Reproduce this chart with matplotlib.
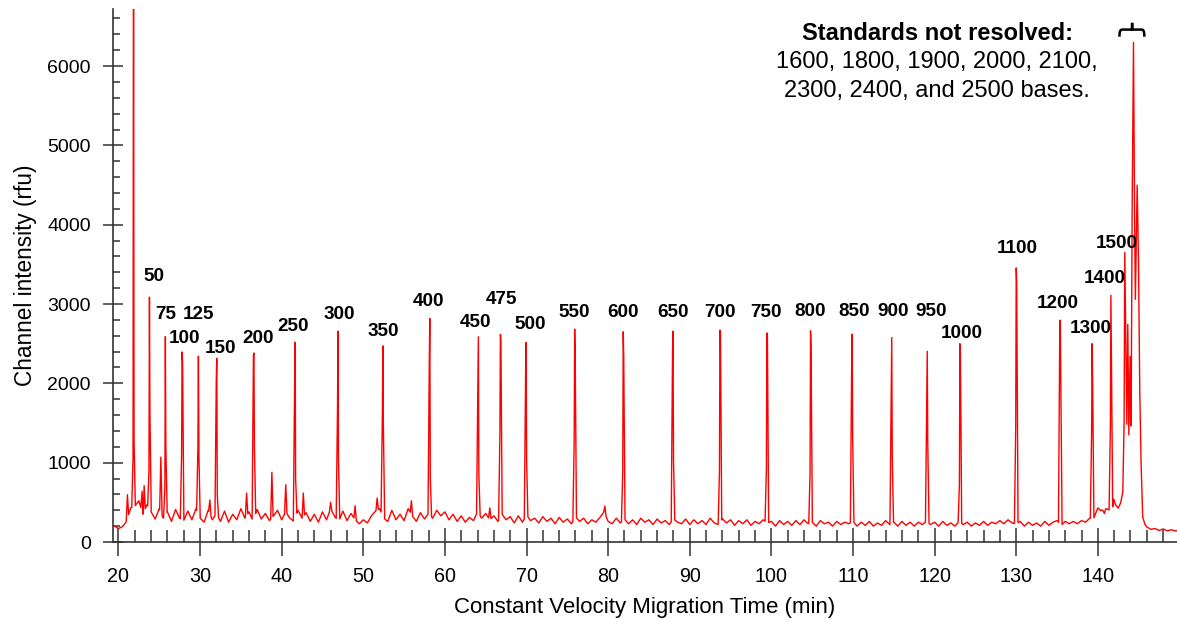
import numpy as np
import matplotlib
matplotlib.use('Agg')
import matplotlib.pyplot as plt
from matplotlib.ticker import MultipleLocator
from matplotlib.path import Path
from matplotlib.patches import PathPatch

plt.rcParams['font.family'] = ['Liberation Sans', 'DejaVu Sans']

# baseline every half minute, starting at 19.5 min
baseline_start = 19.5
baseline_step = 0.5
baseline_rfu = [
    200, 170, 195, 260, 430, 450, 520, 350, 470, 380, 290, 420, 300, 380, 260, 410, 300, 270, 390, 280,
    420, 300, 250, 400, 280, 360, 260, 390, 250, 350, 280, 420, 300, 380, 260, 410, 290, 360, 270, 330,
    400, 280, 380, 300, 260, 400, 300, 370, 260, 350, 250, 380, 280, 420, 320, 260, 390, 270, 360, 280,
    230, 280, 240, 330, 390, 420, 300, 260, 400, 280, 350, 270, 420, 330, 260, 370, 290, 360, 300, 400,
    330, 380, 280, 350, 260, 330, 250, 310, 270, 380, 300, 360, 280, 330, 260, 350, 280, 320, 240, 330,
    250, 340, 270, 300, 240, 320, 260, 300, 230, 310, 250, 290, 230, 320, 260, 300, 230, 280, 250, 310,
    380, 260, 230, 300, 240, 290, 230, 280, 220, 300, 250, 280, 220, 290, 240, 270, 220, 290, 250, 230,
    290, 220, 280, 230, 270, 220, 300, 240, 220, 290, 240, 280, 210, 270, 230, 280, 210, 260, 230, 280,
    240, 260, 200, 270, 220, 260, 210, 270, 220, 280, 230, 250, 200, 270, 230, 250, 200, 260, 220, 250,
    230, 260, 200, 250, 210, 260, 200, 240, 210, 270, 220, 250, 200, 260, 210, 250, 200, 250, 220, 260,
    220, 250, 200, 260, 210, 240, 200, 260, 220, 250, 200, 240, 210, 260, 210, 250, 230, 270, 230, 280,
    240, 230, 260, 200, 250, 210, 240, 200, 260, 210, 250, 270, 210, 260, 230, 260, 230, 270, 250, 300,
    300, 430, 380, 420, 400, 470, 430, 450, 500, 520, 600, 500, 300, 190, 160, 170, 145, 165, 140, 155,
    140, 150,
]

# resolved peaks: primer peak first, then the 50 ... 1400 base standards
peak_time = [21.85, 23.8, 25.75, 27.8, 29.8, 32.05, 36.6, 41.65, 46.9, 52.4,
             58.15, 64.1, 66.8, 69.95, 75.9, 81.85, 87.95, 93.7, 99.45, 104.8,
             109.9, 114.75, 119.1, 123.1, 130.0, 135.4, 139.3, 141.6]
peak_rfu = [9000, 3086, 2590, 2396, 2343, 2315, 2383, 2518, 2658, 2473,
            2818, 2587, 2616, 2515, 2683, 2650, 2658, 2671, 2635, 2662,
            2620, 2578, 2404, 2500, 3455, 2797, 2500, 3110]
peak_left = [1058, 900, 700, 1100, 1205, 2059, 2350, 2027, 1653, 1622,
             2278, 1983, 1370, 2131, 1276, 895, 2389, 887, 915, 860,
             2236, 2047, 1910, 730, 1446, 2780, 1400, 1485]
peak_right = [1300, 1622, 1200, 2252, 1100, 596, 1200, 800, 1037, 1473,
              809, 855, 2536, 1036, 2389, 2347, 1020, 2658, 2628, 2473,
              1320, 1077, 1250, 2395, 3300, 2047, 2024, 2339]

# small unlabelled blips
minor_time = [21.1, 22.9, 23.15, 25.2, 31.2, 35.7, 38.8, 40.5, 42.65, 46.0,
              49.0, 51.7, 55.9, 65.5, 79.6, 140.5, 140.8]
minor_rfu = [596, 640, 710, 1071, 530, 617, 878, 722, 617, 500,
             458, 554, 520, 430, 453, 405, 360]

# unresolved cluster (1500 and the 1600-2500 standards)
cluster_time = [141.96, 142.16, 142.5, 142.8, 143.06, 143.22, 143.3, 143.43, 143.55, 143.67,
                143.8, 143.96, 144.08, 144.2, 144.37, 144.5, 144.6, 144.82, 144.98, 145.14,
                145.3, 145.5, 145.76]
cluster_rfu = [540, 472, 427, 495, 630, 1530, 3650, 2564, 1485, 2744,
               1350, 2340, 1462, 4139, 6298, 4139, 3059, 4498, 3554, 1889,
               990, 315, 225]

size_labels = ['50', '75', '100', '125', '150', '200', '250', '300', '350', '400',
               '450', '475', '500', '550', '600', '650', '700', '750', '800', '850',
               '900', '950', '1000', '1100', '1200', '1300', '1400', '1500']
label_time = [24.35, 25.8, 28.1, 29.85, 32.5, 37.1, 41.45, 47.0, 52.45, 58.05,
              63.8, 66.9, 70.4, 75.9, 81.85, 87.95, 93.7, 99.4, 104.7, 110.1,
              114.9, 119.6, 123.3, 130.1, 135.1, 139.1, 140.8, 142.3]
label_rfu = [3351, 2870, 2563, 2870, 2441, 2563, 2712, 2870, 2658, 3027,
             2771, 3060, 2740, 2897, 2897, 2897, 2897, 2897, 2910, 2910,
             2910, 2910, 2633, 3697, 3011, 2696, 3320, 3760]

note_title = 'Standards not resolved:'
note_lines = ['1600, 1800, 1900, 2000, 2100,', '2300, 2400, and 2500 bases.']

# ---- assemble the trace ----
base_t = baseline_start + baseline_step * np.arange(len(baseline_rfu))
base_v = np.array(baseline_rfu, dtype=float)

def foot(t):
    return float(np.interp(t, base_t, base_v))

pts = []
windows = []
pw, ps = 0.22, 0.06
for t, h, l, r in zip(peak_time, peak_rfu, peak_left, peak_right):
    pts += [(t - pw, foot(t - pw)), (t - ps, l), (t, h), (t + ps, r), (t + pw, foot(t + pw))]
    windows.append((t - pw, t + pw))
mw = 0.15
for t, h in zip(minor_time, minor_rfu):
    pts += [(t - mw, foot(t - mw)), (t, h), (t + mw, foot(t + mw))]
    windows.append((t - mw, t + mw))
pts += list(zip(cluster_time, cluster_rfu))
windows.append((cluster_time[0] - 0.05, cluster_time[-1] + 0.05))

for t, v in zip(base_t, base_v):
    if not any(a <= t <= b for a, b in windows):
        pts.append((t, v))
pts.sort()
trace_t = [p[0] for p in pts]
trace_v = [p[1] for p in pts]

# ---- figure ----
fig = plt.figure(figsize=(11.77, 6.22), dpi=100)
ax = fig.add_axes([0.0957, 0.1286, 0.9043, 0.857])
ax.plot(trace_t, trace_v, color='#ff0000', lw=1.0)

ax.set_xlim(19.29, 149.7)
ax.set_ylim(0, 6720)
ax.spines['top'].set_visible(False)
ax.spines['right'].set_visible(False)
for s in ('left', 'bottom'):
    ax.spines[s].set_color('#333333')
    ax.spines[s].set_linewidth(1.2)

ax.xaxis.set_major_locator(MultipleLocator(10))
ax.xaxis.set_minor_locator(MultipleLocator(2))
ax.yaxis.set_major_locator(MultipleLocator(1000))
ax.yaxis.set_minor_locator(MultipleLocator(200))
ax.tick_params(axis='x', which='major', direction='inout', length=19.5, width=1.1,
               color='#333333', labelsize=14.2, pad=8)
ax.tick_params(axis='x', which='minor', direction='in', length=8.5, width=1.1, color='#333333')
ax.tick_params(axis='y', which='major', direction='inout', length=13.7, width=1.1,
               color='#333333', labelsize=14, pad=9)
ax.tick_params(axis='y', which='minor', direction='in', length=5.3, width=1.1, color='#333333')

ax.set_xlabel('Constant Velocity Migration Time (min)', fontsize=16, labelpad=8)
ax.set_ylabel('Channel intensity (rfu)', fontsize=16.3, labelpad=7)

for txt, t, v in zip(size_labels, label_time, label_rfu):
    ax.text(t, v, txt, ha='center', va='center', fontsize=13.6, fontweight='bold')

ax.text(120.3, 6411, note_title, ha='center', va='center', fontsize=17, fontweight='bold')
ax.text(120.3, 6047, note_lines[0], ha='center', va='center', fontsize=17)
ax.text(120.3, 5682, note_lines[1], ha='center', va='center', fontsize=17)

# curly brace over the unresolved cluster
bl, br, bc = 142.65, 145.7, 144.2
y0, y1, y2 = 6370, 6460, 6545
verts = [(bl, y0), (bl, y1 - 20), (bl + 0.1, y1), (bl + 0.35, y1),
         (bc - 0.3, y1), (bc - 0.3, y1), (bc - 0.1, y1),
         (bc, y1), (bc, y1 + 20), (bc, y2),
         (bc, y1 + 20), (bc, y1), (bc + 0.1, y1),
         (br - 0.35, y1), (br - 0.35, y1), (br - 0.35, y1),
         (br - 0.1, y1), (br, y1 - 20), (br, y0)]
codes = [Path.MOVETO] + [Path.CURVE4] * (len(verts) - 1)
ax.add_patch(PathPatch(Path(verts, codes), fill=False, lw=1.8, ec='black', clip_on=False))

fig.savefig('out.png', dpi=100)
